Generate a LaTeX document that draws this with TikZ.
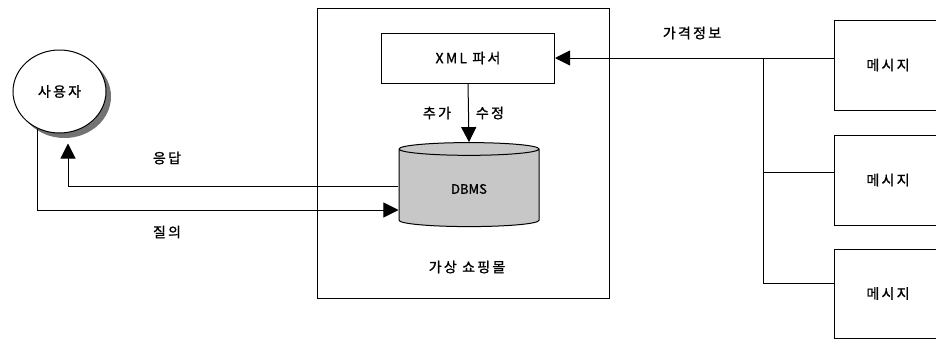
\documentclass[tikz,border=0pt]{standalone}
\usepackage{fontspec}
\setmainfont{Noto Sans CJK KR}[LetterSpace=16,FakeBold=1.2]
\newfontfamily\plainfont{Noto Sans CJK KR}[FakeBold=1.2]
\usetikzlibrary{arrows.meta,shapes.geometric,shadows}

\begin{document}
\begin{tikzpicture}[x=1pt,y=-1pt,line width=1pt,
    txt/.style={font=\fontsize{14}{16}\selectfont},
    msgbox/.style={draw,txt,minimum width=108pt,minimum height=#1},
    arr/.style={-{Triangle[length=15pt,width=15pt]}}]
  \useasboundingbox (0,0) rectangle (936,340);
  \clip (0,0) rectangle (936,340);
  % shopping mall
  \node[draw,minimum width=292pt,minimum height=290pt] (mall) at (463,153) {};
  \node[draw,txt,minimum width=173pt,minimum height=50pt] (xml) at (468,58) {XML 파서};
  \node[draw,cylinder,shape border rotate=90,shape aspect=0.3,fill=black!22,
        minimum width=140pt,minimum height=84pt,
        font=\plainfont\fontsize{13}{15}\selectfont] (db) at (469,189) {DBMS};
  \node[txt] (mallname) at (467,267) {가상 쇼핑몰};
  \draw[arr] (xml.south) -- (db.north);
  \node[txt] (add) at (437,113) {추가};
  \node[txt] (edit) at (490,113) {수정};
  % user
  \node[ellipse,draw,fill=white,txt,minimum width=93pt,minimum height=83pt,
        drop shadow={shadow xshift=5pt,shadow yshift=-5pt,fill=black!55,opacity=1}]
        (user) at (59.5,91.5) {사용자};
  \draw[arr] (user.240) |- ([yshift=-21pt]db.west);
  \draw[arr] ([yshift=3pt]db.west) -| ([xshift=8.5pt,yshift=-10pt]user.south);
  \node[txt] (resp) at (167,158) {응답};
  \node[txt] (query) at (167,232) {질의};
  % messages
  \node[msgbox=90pt] (msg1) at (888,65) {메시지};
  \node[msgbox=90pt] (msg2) at (888,180) {메시지};
  \node[msgbox=89pt] (msg3) at (888,293.5) {메시지};
  \coordinate (bus) at (763,58);
  \draw[arr] (xml.east -| msg1.west) -- (xml.east);
  \draw (bus) |- ([yshift=8pt]msg2.west);
  \draw (bus) |- ([yshift=10pt]msg3.west);
  \node[txt] (price) at (692,33) {가격정보};
\end{tikzpicture}
\end{document}
